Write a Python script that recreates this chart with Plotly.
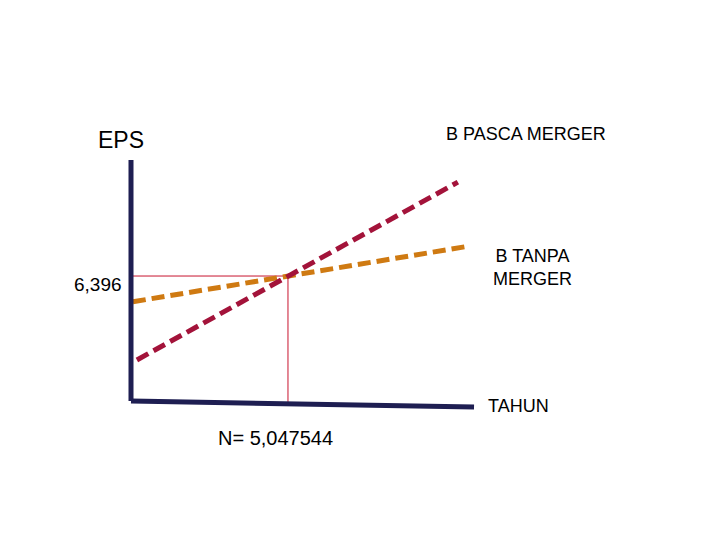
import plotly.graph_objects as go

# Data (chart units: x = TAHUN, y = EPS)
n_break = 5.047544
eps_break = 6.396

pasca_x = [0.19, 10.51]
pasca_y = [2.10, 11.20]

tanpa_x = [0.06, 10.77]
tanpa_y = [5.08, 7.90]

axis_v_x = [0.0, 0.0]
axis_v_y = [0.0, 12.33]
axis_h_x = [0.0, 11.03]
axis_h_y = [0.0, -0.31]

guide_h_x = [0.0, n_break]
guide_h_y = [eps_break, eps_break]
guide_v_x = [n_break, n_break]
guide_v_y = [eps_break, -0.2]

navy = "#1E1E52"
crimson = "#A3133A"
orange = "#CF7A12"
red = "#C8142E"
font = "Liberation Sans, Arial, sans-serif"

# page layout: body has 8px margin
W, H = 704, 524
OX, OY = 131, 401          # origin on page
SX, SY = 31.1, 19.54       # px per unit


def ux(px):
    return (px - OX) / SX


def uy(py):
    return (OY - py) / SY


fig = go.Figure()
fig.add_trace(go.Scatter(x=guide_h_x, y=guide_h_y, mode="lines",
                         line=dict(color=red, width=1)))
fig.add_trace(go.Scatter(x=guide_v_x, y=guide_v_y, mode="lines",
                         line=dict(color=red, width=1)))
fig.add_trace(go.Scatter(x=tanpa_x, y=tanpa_y, mode="lines",
                         line=dict(color=orange, width=5, dash="13px,6px")))
fig.add_trace(go.Scatter(x=pasca_x, y=pasca_y, mode="lines",
                         line=dict(color=crimson, width=5, dash="13px,6px")))
fig.add_trace(go.Scatter(x=axis_v_x, y=axis_v_y, mode="lines",
                         line=dict(color=navy, width=5)))
fig.add_trace(go.Scatter(x=axis_h_x, y=axis_h_y, mode="lines",
                         line=dict(color=navy, width=5)))

ann = [
    dict(px=121, py=140, text="EPS", size=23),
    dict(px=526, py=134, text="B PASCA MERGER", size=18),
    dict(px=532, py=267, text="B TANPA<br>MERGER", size=18),
    dict(px=98, py=284, text="6,396", size=19),
    dict(px=518, py=406, text="TAHUN", size=18),
    dict(px=275, py=438, text="N= 5,047544", size=20),
]
for a in ann:
    fig.add_annotation(x=ux(a["px"]), y=uy(a["py"]), text=a["text"], showarrow=False,
                       xanchor="center", yanchor="middle",
                       font=dict(family=font, size=a["size"], color="#000000"))

fig.update_layout(
    width=W, height=H,
    margin=dict(l=0, r=0, t=0, b=0),
    paper_bgcolor="white", plot_bgcolor="white",
    showlegend=False,
    xaxis=dict(range=[ux(8), ux(8 + W)], visible=False, fixedrange=True),
    yaxis=dict(range=[uy(8 + H), uy(8)], visible=False, fixedrange=True),
)

fig.write_html("out.html")
